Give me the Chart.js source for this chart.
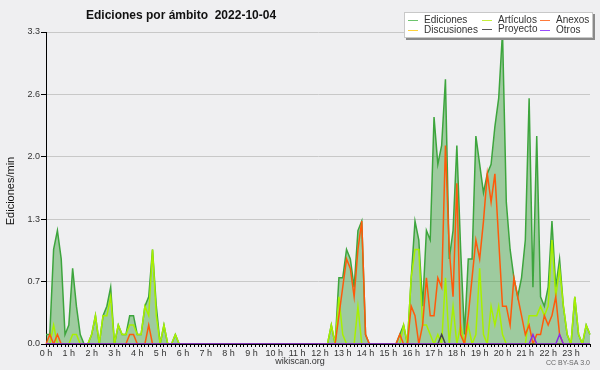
<!DOCTYPE html>
<html>
<head>
<meta charset="utf-8">
<script src="https://cdn.jsdelivr.net/npm/chart.js@4.4.1/dist/chart.umd.min.js"></script>
<style>
  html, body { margin: 0; padding: 0; background: #efeff1; }
  #wrap { width: 600px; height: 370px; }
</style>
</head>
<body>
<div id="wrap"><canvas id="chart" width="600" height="370"></canvas></div>
<script>
// Hour labels on the x axis (one data point every 10 minutes)
const hourLabels = ['0 h', '1 h', '2 h', '3 h', '4 h', '5 h', '6 h', '7 h', '8 h', '9 h', '10 h', '11 h',
    '12 h', '13 h', '14 h', '15 h', '16 h', '17 h', '18 h', '19 h', '20 h', '21 h', '22 h', '23 h'];
const yTicks = [0, 0.66, 1.32, 1.98, 2.64, 3.3];

// Edits per minute, 10-minute buckets, 12 values per row (2 hours)
const ediciones = [
    0.1, 0.1, 1.0, 1.2, 0.9, 0.1, 0.2, 0.8, 0.4, 0.1, 0, 0,
    0.1, 0.3, 0, 0.3, 0.4, 0.6, 0, 0.2, 0.1, 0.1, 0.3, 0.3,
    0.1, 0.1, 0.4, 0.5, 1.0, 0.4, 0, 0.2, 0, 0, 0.1, 0,
    0, 0, 0, 0, 0, 0, 0, 0, 0, 0, 0, 0,
    0, 0, 0, 0, 0, 0, 0, 0, 0, 0, 0, 0,
    0, 0, 0, 0, 0, 0, 0, 0, 0, 0, 0, 0,
    0, 0, 0, 0.2, 0, 0.7, 0.7, 1.0, 0.9, 0.6, 1.2, 1.3,
    0.1, 0, 0, 0, 0, 0, 0, 0, 0, 0.1, 0.2, 0,
    0.7, 1.3, 1.1, 0.4, 1.2, 1.1, 2.4, 1.9, 2.1, 2.8, 0.9, 1.2,
    2.1, 1.0, 0.1, 0.9, 0.9, 2.2, 1.9, 1.6, 1.8, 1.9, 2.3, 2.6,
    3.3, 1.5, 1.0, 0.7, 0.5, 0.7, 1.1, 2.6, 0.6, 2.2, 0.5, 0.4,
    0.6, 1.3, 0.6, 0.9, 0.4, 0.1, 0, 0.5, 0.1, 0, 0.2, 0.1
];
const articulos = [
    0, 0, 0.2, 0, 0, 0, 0, 0.1, 0.1, 0, 0, 0,
    0.1, 0.3, 0, 0.3, 0.3, 0.5, 0, 0.2, 0.1, 0.1, 0.2, 0.2,
    0.1, 0.1, 0.4, 0.3, 1.0, 0.3, 0, 0.2, 0, 0, 0.1, 0,
    0, 0, 0, 0, 0, 0, 0, 0, 0, 0, 0, 0,
    0, 0, 0, 0, 0, 0, 0, 0, 0, 0, 0, 0,
    0, 0, 0, 0, 0, 0, 0, 0, 0, 0, 0, 0,
    0, 0, 0, 0.2, 0, 0.5, 0.1, 0, 0, 0, 0.4, 0,
    0, 0, 0, 0, 0, 0, 0, 0, 0, 0, 0.2, 0,
    0.7, 1.0, 1.0, 0.2, 0.2, 0.1, 0, 0.1, 0, 0.7, 0, 0.4,
    0, 0.2, 0, 0.2, 0, 0.1, 0.8, 0.1, 0, 0.4, 0.2, 0.4,
    0.1, 0, 0, 0, 0, 0, 0, 0.3, 0.3, 0.3, 0.4, 0.3,
    0.4, 1.1, 0.5, 0.8, 0.4, 0.1, 0, 0.5, 0.1, 0, 0.2, 0.1
];
const anexos = [
    0, 0.1, 0, 0.1, 0, 0, 0, 0, 0, 0, 0, 0,
    0, 0, 0, 0, 0, 0, 0, 0, 0, 0, 0.1, 0.1,
    0, 0, 0, 0.2, 0, 0, 0, 0, 0, 0, 0, 0,
    0, 0, 0, 0, 0, 0, 0, 0, 0, 0, 0, 0,
    0, 0, 0, 0, 0, 0, 0, 0, 0, 0, 0, 0,
    0, 0, 0, 0, 0, 0, 0, 0, 0, 0, 0, 0,
    0, 0, 0, 0, 0, 0.3, 0.6, 0.9, 0.8, 0.5, 1.0, 1.3,
    0.1, 0, 0, 0, 0, 0, 0, 0, 0, 0.1, 0, 0,
    0.4, 0.3, 0, 0.2, 0.7, 0.3, 0.3, 0.7, 0.6, 2.1, 1.0, 0.5,
    1.7, 0.1, 0, 0.3, 0.7, 1.1, 0.9, 1.3, 1.8, 1.5, 1.8, 1.1,
    0.4, 0.4, 0.2, 0.7, 0.5, 0.3, 0.1, 0.2, 0, 0.1, 0.1, 0.3,
    0.2, 0.3, 0.5, 0.1, 0, 0, 0, 0, 0, 0, 0, 0
];
const discusiones = [
    0, 0, 0, 0, 0, 0, 0, 0, 0, 0, 0, 0,
    0, 0, 0, 0, 0, 0, 0, 0, 0, 0, 0, 0,
    0, 0, 0, 0, 0, 0, 0, 0, 0, 0, 0, 0,
    0, 0, 0, 0, 0, 0, 0, 0, 0, 0, 0, 0,
    0, 0, 0, 0, 0, 0, 0, 0, 0, 0, 0, 0,
    0, 0, 0, 0, 0, 0, 0, 0, 0, 0, 0, 0,
    0, 0, 0, 0, 0, 0, 0, 0, 0, 0, 0, 0,
    0, 0, 0, 0, 0, 0, 0, 0, 0, 0, 0, 0,
    0, 0, 0, 0, 0, 0, 0, 0, 0, 0, 0, 0,
    0, 0, 0, 0, 0, 0, 0, 0, 0, 0, 0, 0,
    0, 0, 0, 0, 0, 0, 0, 0, 0, 0, 0, 0,
    0, 0, 0, 0, 0, 0, 0, 0, 0, 0, 0, 0
];
const proyecto = [
    0, 0, 0, 0, 0, 0, 0, 0, 0, 0, 0, 0,
    0, 0, 0, 0, 0, 0, 0, 0, 0, 0, 0, 0,
    0, 0, 0, 0, 0, 0, 0, 0, 0, 0, 0, 0,
    0, 0, 0, 0, 0, 0, 0, 0, 0, 0, 0, 0,
    0, 0, 0, 0, 0, 0, 0, 0, 0, 0, 0, 0,
    0, 0, 0, 0, 0, 0, 0, 0, 0, 0, 0, 0,
    0, 0, 0, 0, 0, 0, 0, 0, 0, 0, 0, 0,
    0, 0, 0, 0, 0, 0, 0, 0, 0, 0, 0, 0,
    0, 0, 0, 0, 0, 0, 0, 0, 0.1, 0, 0, 0,
    0, 0, 0, 0, 0, 0, 0, 0, 0, 0, 0, 0,
    0, 0, 0, 0, 0, 0, 0, 0, 0, 0, 0, 0,
    0, 0, 0, 0, 0, 0, 0, 0, 0, 0, 0, 0
];
const otros = [
    0, 0, 0, 0, 0, 0, 0, 0, 0, 0, 0, 0,
    0, 0, 0, 0, 0, 0, 0, 0, 0, 0, 0, 0,
    0, 0, 0, 0, 0, 0, 0, 0, 0, 0, 0, 0,
    0, 0, 0, 0, 0, 0, 0, 0, 0, 0, 0, 0,
    0, 0, 0, 0, 0, 0, 0, 0, 0, 0, 0, 0,
    0, 0, 0, 0, 0, 0, 0, 0, 0, 0, 0, 0,
    0, 0, 0, 0, 0, 0, 0, 0, 0, 0, 0, 0,
    0, 0, 0, 0, 0, 0, 0, 0, 0, 0, 0, 0,
    0, 0, 0, 0, 0, 0, 0, 0, 0, 0, 0, 0,
    0, 0, 0, 0, 0, 0, 0, 0, 0, 0, 0, 0,
    0, 0, 0, 0, 0, 0, 0, 0, 0.1, 0, 0, 0,
    0, 0, 0, 0.1, 0, 0, 0, 0, 0, 0, 0, 0
];

// one label per 10-minute slot, hour name on the first slot of each hour
const slotLabels = hourLabels.flatMap(h => [h, '', '', '', '', '']);

const FONT = '"Liberation Sans", "DejaVu Sans", sans-serif';

function line(label, data, color, order, extra) {
    return Object.assign({
        label: label,
        data: data,
        borderColor: color,
        backgroundColor: color,
        borderWidth: 1.5,
        pointRadius: 0,
        tension: 0,
        fill: false,
        order: order
    }, extra || {});
}

// Legend layout: [label, colour, column x, row y]
const legendItems = [
    ['Ediciones', '#6cc46c', 408, 20],
    ['Artículos', '#c4ee3a', 482, 20],
    ['Anexos', '#ff7a3a', 540, 20],
    ['Discusiones', '#ffd23a', 408, 30],
    ['Proyecto', '#555555', 482, 29],
    ['Otros', '#9a4cff', 540, 30]
];

const decorPlugin = {
    id: 'decor',
    beforeDraw(chart) {
        const ctx = chart.ctx;
        ctx.save();
        ctx.fillStyle = '#efeff1';
        ctx.fillRect(0, 0, chart.width, chart.height);
        ctx.restore();
    },
    afterDraw(chart) {
        const ctx = chart.ctx;
        ctx.save();

        // title
        ctx.fillStyle = '#111';
        ctx.font = 'bold 12px ' + FONT;
        ctx.textAlign = 'left';
        ctx.textBaseline = 'middle';
        ctx.fillText('Ediciones por ámbito  2022-10-04', 86, 16);

        // y axis title
        ctx.save();
        ctx.translate(11, 191);
        ctx.rotate(-Math.PI / 2);
        ctx.font = '11px ' + FONT;
        ctx.textAlign = 'center';
        ctx.fillStyle = '#111';
        ctx.fillText('Ediciones/min', 0, 0);
        ctx.restore();

        // footer
        ctx.font = '9px ' + FONT;
        ctx.textAlign = 'center';
        ctx.fillStyle = '#333';
        ctx.fillText('wikiscan.org', 300, 362);
        ctx.font = '7px ' + FONT;
        ctx.textAlign = 'right';
        ctx.fillStyle = '#666';
        ctx.fillText('CC BY-SA 3.0', 590, 363);

        // legend box with shadow
        ctx.fillStyle = '#8a8a8a';
        ctx.fillRect(406, 14, 189, 26);
        ctx.fillStyle = '#ffffff';
        ctx.fillRect(404, 12, 189, 26);
        ctx.strokeStyle = '#c8c8c8';
        ctx.lineWidth = 1;
        ctx.strokeRect(404.5, 12.5, 188, 25);

        ctx.font = '10px ' + FONT;
        ctx.textAlign = 'left';
        legendItems.forEach(([label, color, x, y]) => {
            ctx.strokeStyle = color;
            ctx.beginPath();
            ctx.moveTo(x, y + 0.5);
            ctx.lineTo(x + 10, y + 0.5);
            ctx.stroke();
            ctx.fillStyle = '#333';
            ctx.fillText(label, x + 16, y);
        });

        ctx.restore();
    }
};

new Chart(document.getElementById('chart'), {
    type: 'line',
    data: {
        labels: slotLabels,
        datasets: [
            line('Ediciones', ediciones, '#3da53d', 10, { fill: 'origin', backgroundColor: 'rgba(60,160,60,0.45)' }),
            line('Artículos', articulos, '#a8f000', 5),
            line('Discusiones', discusiones, '#ffcc22', 4),
            line('Anexos', anexos, '#ff5a0a', 3),
            line('Proyecto', proyecto, '#444444', 2),
            line('Otros', otros, '#8a2be2', 1)
        ]
    },
    options: {
        responsive: false,
        animation: false,
        devicePixelRatio: 1,
        layout: { padding: { top: 32, right: 10, left: 0, bottom: 0 } },
        plugins: {
            legend: { display: false },
            title: { display: false },
            tooltip: { enabled: false }
        },
        scales: {
            x: {
                type: 'category',
                offset: false,
                grid: { display: true, drawOnChartArea: false, drawTicks: true, tickLength: 3, color: '#000' },
                border: { display: true, color: '#000' },
                ticks: { autoSkip: false, maxRotation: 0, minRotation: 0, padding: 1, color: '#333', font: { family: FONT, size: 9 } },
                afterFit: s => { s.height = 26; }
            },
            y: {
                min: 0,
                max: 3.3,
                afterBuildTicks: s => { s.ticks = yTicks.map(v => ({ value: v })); },
                grid: {
                    color: c => (c.tick && c.tick.value === 0 ? 'rgba(0,0,0,0)' : '#c8c8c8'),
                    tickColor: '#000',
                    tickLength: 5
                },
                border: { display: true, color: '#000' },
                ticks: { padding: 1, color: '#333', font: { family: FONT, size: 9 }, callback: v => v.toFixed(1) },
                afterFit: s => { s.width = 46; }
            }
        }
    },
    plugins: [decorPlugin]
});
</script>
</body>
</html>
